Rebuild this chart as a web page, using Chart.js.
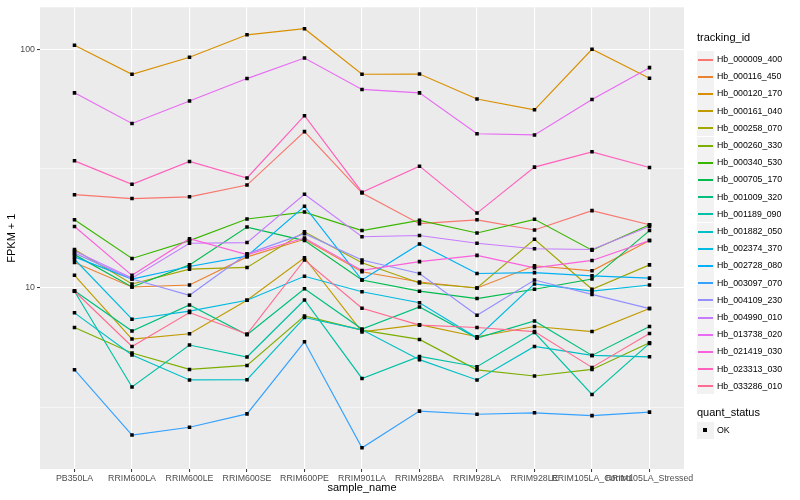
<!DOCTYPE html>
<html><head><meta charset="utf-8">
<script src="https://cdn.jsdelivr.net/npm/chart.js@4.4.1/dist/chart.umd.min.js"></script>
<style>
html,body{margin:0;padding:0;background:#fff;}
#wrap{position:relative;width:800px;height:500px;font-family:"Liberation Sans",Arial,Helvetica,sans-serif;}
#c{position:absolute;left:0;top:0;width:800px;height:500px;}
.lt{position:absolute;left:697px;font-size:11px;line-height:13px;color:#000;white-space:nowrap;}
.key{position:absolute;left:697px;width:17px;height:17px;background:#F2F2F2;}
.key i{position:absolute;left:1px;width:15px;top:8px;height:1.5px;display:block;}
.key b{position:absolute;left:6px;top:6px;width:4px;height:4px;background:#000;display:block;}
.lab{position:absolute;left:717px;font-size:8.8px;line-height:10px;color:#000;white-space:nowrap;}
</style></head>
<body><div id="wrap"><canvas id="c" width="800" height="500"></canvas><div id="legend"></div></div>
<script>
const categories = ["PB350LA","RRIM600LA","RRIM600LE","RRIM600SE","RRIM600PE","RRIM901LA","RRIM928BA","RRIM928LA","RRIM928LE","RRIM105LA_Control","RRIM105LA_Stressed"];
const yTickValues = [10, 100];
const yMinorValues = [3.162, 31.62];

const hb_000009_400 = [24.6, 23.7, 24.1, 27.0, 45.2, 25.0, 18.6, 19.3, 17.5, 21.1, 18.4];
const hb_000116_450 = [12.8, 10.1, 10.3, 13.5, 16.0, 11.7, 10.6, 10.0, 12.4, 11.8, 15.8];
const hb_000120_170 = [104, 78.6, 92.6, 115, 122, 78.6, 78.8, 61.9, 55.8, 100, 75.7];
const hb_000161_040 = [11.3, 6.11, 6.43, 8.89, 13.4, 6.55, 7.02, 6.25, 6.9, 6.57, 8.2];
const hb_000258_070 = [14.5, 10.4, 12.0, 12.2, 17.2, 12.75, 10.5, 10.0, 16.0, 9.88, 12.5];
const hb_000260_330 = [6.83, 5.34, 4.56, 4.74, 7.64, 6.66, 6.09, 4.54, 4.28, 4.56, 5.9];
const hb_000340_530 = [19.3, 13.3, 15.8, 19.45, 20.8, 17.4, 19.2, 17.0, 19.4, 14.4, 18.4];
const hb_000705_170 = [13.8, 10.1, 12.5, 18.0, 15.8, 10.8, 9.7, 9.03, 9.88, 10.9, 17.4];
const hb_001009_320 = [9.74, 6.6, 8.49, 6.37, 9.93, 6.73, 8.33, 6.17, 7.28, 5.22, 6.9];
const hb_001189_090 = [9.7, 3.85, 5.77, 5.14, 8.91, 4.18, 5.17, 4.68, 6.51, 3.58, 5.86];
const hb_001882_050 = [7.87, 5.24, 4.12, 4.13, 7.52, 6.68, 5.01, 4.12, 5.69, 5.22, 5.15];
const hb_002374_370 = [13.2, 7.4, 8.0, 8.89, 11.2, 9.65, 8.68, 6.19, 10.4, 9.7, 10.3];
const hb_002728_080 = [13.5, 10.9, 12.3, 13.6, 22.0, 10.8, 15.3, 11.5, 11.6, 11.25, 11.0];
const hb_003097_070 = [4.55, 2.42, 2.61, 2.97, 5.95, 2.14, 3.05, 2.96, 3.0, 2.92, 3.02];
const hb_004109_230 = [14.0, 10.9, 9.32, 13.9, 16.9, 13.1, 11.5, 7.69, 10.8, 9.4, 8.2];
const hb_004990_010 = [14.3, 11.0, 15.4, 15.5, 24.7, 16.4, 16.6, 15.4, 14.6, 14.5, 18.1];
const hb_013738_020 = [65.7, 48.9, 60.7, 75.4, 91.9, 67.9, 65.7, 44.3, 43.8, 61.6, 83.8];
const hb_021419_030 = [18.1, 11.3, 16.1, 13.8, 16.2, 11.85, 12.9, 13.7, 12.15, 13.05, 15.8];
const hb_023313_030 = [34.1, 27.2, 33.9, 28.9, 52.7, 25.2, 32.4, 20.6, 32.1, 37.2, 32.0];
const hb_033286_010 = [9.69, 5.69, 7.89, 6.41, 13.1, 8.23, 6.99, 6.83, 6.57, 4.65, 6.45];

const seriesNames = ["Hb_000009_400","Hb_000116_450","Hb_000120_170","Hb_000161_040","Hb_000258_070","Hb_000260_330","Hb_000340_530","Hb_000705_170","Hb_001009_320","Hb_001189_090","Hb_001882_050","Hb_002374_370","Hb_002728_080","Hb_003097_070","Hb_004109_230","Hb_004990_010","Hb_013738_020","Hb_021419_030","Hb_023313_030","Hb_033286_010"];
const seriesValues = [hb_000009_400,hb_000116_450,hb_000120_170,hb_000161_040,hb_000258_070,hb_000260_330,hb_000340_530,hb_000705_170,hb_001009_320,hb_001189_090,hb_001882_050,hb_002374_370,hb_002728_080,hb_003097_070,hb_004109_230,hb_004990_010,hb_013738_020,hb_021419_030,hb_023313_030,hb_033286_010];
const seriesColors = ["#F8766D","#EA8331","#D89000","#C09B00","#A3A500","#7CAE00","#39B600","#00BB4E","#00BF7D","#00C1A3","#00BFC4","#00BAE0","#00B0F6","#35A2FF","#9590FF","#C77CFF","#E76BF3","#FA62DB","#FF62BC","#FF6C91"];

const toXY = arr => arr.map((v, i) => ({x: i, y: v}));
const datasets = [];
seriesValues.forEach((arr, k) => {
  datasets.push({label: seriesNames[k], data: toXY(arr), borderColor: seriesColors[k], backgroundColor: seriesColors[k],
    borderWidth: 1.15, pointRadius: 0, pointHoverRadius: 0, fill: false, tension: 0, order: 20 - k});
});
seriesValues.forEach((arr, k) => {
  datasets.push({label: seriesNames[k] + " OK", data: toXY(arr), showLine: false, pointStyle: 'rect',
    pointRadius: 2.5, pointBorderWidth: 0, pointBackgroundColor: '#000', pointBorderColor: '#000', order: 0});
});

const panelBg = {
  id: 'panelBg',
  beforeDraw(chart) {
    const {ctx, chartArea: a} = chart;
    ctx.save(); ctx.fillStyle = '#EBEBEB';
    ctx.fillRect(a.left, a.top, a.right - a.left, a.bottom - a.top);
    ctx.restore();
  }
};

const tickFont = {family: '"Liberation Sans", Arial, Helvetica, sans-serif', size: 8.8};
const titleFont = {family: '"Liberation Sans", Arial, Helvetica, sans-serif', size: 11};

new Chart(document.getElementById('c'), {
  type: 'line',
  data: {datasets},
  options: {
    responsive: false, animation: false, devicePixelRatio: 1,
    layout: {padding: {left: 0, right: 116, top: 5, bottom: 0}},
    plugins: {legend: {display: false}, tooltip: {enabled: false}},
    scales: {
      x: {
        type: 'linear', min: -0.6, max: 10.6,
        afterBuildTicks: s => { s.ticks = categories.map((c, i) => ({value: i})); },
        afterFit: s => { s.height = 31; },
        ticks: {autoSkip: false, maxRotation: 0, minRotation: 0, padding: 1, color: '#4D4D4D', font: tickFont,
          callback: v => categories[v]},
        grid: {color: '#FFFFFF', lineWidth: 1.1, drawTicks: true, tickLength: 3, tickColor: '#333333', tickWidth: 1},
        border: {display: false},
        title: {display: true, text: 'sample_name', color: '#000', font: titleFont, padding: {top: 0, bottom: 5}}
      },
      y: {
        type: 'logarithmic', min: 1.745, max: 150,
        afterBuildTicks: s => {
          s.ticks = [{value: yMinorValues[0]}, {value: yTickValues[0]}, {value: yMinorValues[1]}, {value: yTickValues[1]}];
        },
        afterFit: s => { s.width = 40; },
        ticks: {autoSkip: false, padding: 2, color: '#4D4D4D', font: tickFont,
          callback: v => yTickValues.includes(v) ? String(v) : ''},
        grid: {color: '#FFFFFF',
          lineWidth: c => (c.tick && yTickValues.includes(c.tick.value)) ? 1.1 : 0.55,
          drawTicks: true, tickLength: 3, tickWidth: 1,
          tickColor: c => (c.tick && yTickValues.includes(c.tick.value)) ? '#333333' : 'rgba(0,0,0,0)'},
        border: {display: false},
        title: {display: true, text: 'FPKM + 1', color: '#000', font: titleFont, padding: {top: 5, bottom: 0}}
      }
    }
  },
  plugins: [panelBg]
});

// legend (HTML text)
const lg = document.getElementById('legend');
let html = '<div class="lt" style="top:31px">tracking_id</div>';
seriesNames.forEach((n, k) => {
  const cy = 59 + 17.2 * k;
  html += '<div class="key" style="top:' + Math.round(cy - 8.5) + 'px"><i style="background:' + seriesColors[k] + '"></i></div>';
  html += '<div class="lab" style="top:' + Math.round(cy - 5) + 'px">' + n + '</div>';
});
html += '<div class="lt" style="top:406px">quant_status</div>';
html += '<div class="key" style="top:422px"><b></b></div>';
html += '<div class="lab" style="top:425px">OK</div>';
lg.innerHTML = html;
</script>
</body></html>
